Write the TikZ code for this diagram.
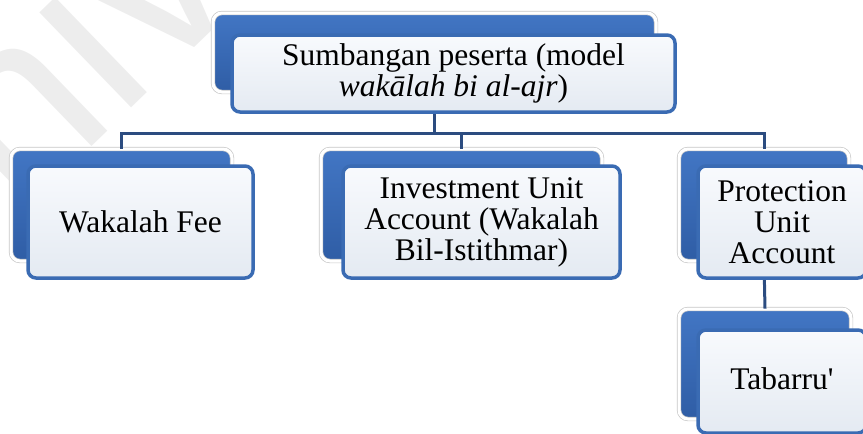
\documentclass[tikz,border=0pt]{standalone}
\usepackage{fontspec}
\setmainfont{Liberation Serif}
\setsansfont{Liberation Sans}
\usetikzlibrary{calc}

\definecolor{backblue}{HTML}{4276C4}
\definecolor{backbluedark}{HTML}{2F5DA5}
\definecolor{frameblue}{HTML}{3A6BB3}
\definecolor{linknavy}{HTML}{2C4C80}
\definecolor{paneltop}{HTML}{F8FAFD}
\definecolor{panelbot}{HTML}{E4EAF2}

\tikzset{
  backcard/.style={rounded corners=9pt, draw=black!22, double=white,
    double distance=3pt, line width=0.7pt,
    top color=backblue, bottom color=backbluedark, inner sep=0pt},
  frontcard/.style={draw=frameblue, line width=3.5pt, rounded corners=8pt,
    top color=paneltop, bottom color=panelbot, align=center, inner sep=0pt,
    font=\fontsize{31.5}{31}\selectfont},
  link/.style={draw=linknavy, line width=3pt},
}

\begin{document}
\begin{tikzpicture}[x=1pt, y=-1pt]
\useasboundingbox (0,0) rectangle (863,434);

% faint watermark behind the chart
\node[rotate=44, anchor=base west, text=black!7, inner sep=0pt,
  font=\sffamily\fontsize{250}{250}\selectfont] (mark) at (-110,342) {Univer};

% back cards
\node[backcard, minimum width=443, minimum height=79] (topback) at (434.5,52.5) {};
\node[backcard, minimum width=221, minimum height=112] (wakback) at (121.5,205) {};
\node[backcard, minimum width=281, minimum height=112] (invback) at (461.5,205) {};
\node[backcard, minimum width=170, minimum height=112] (protback) at (764,205) {};
\node[backcard, minimum width=172, minimum height=110] (tabback) at (765,364) {};

% connectors
\coordinate (bus) at (0,133);
\draw[link] (topback.south) -- (topback.south |- bus);
\draw[link] (wakback.north) -- (wakback.north |- bus) -- (protback.north |- bus) -- (protback.north);
\draw[link] (invback.north |- bus) -- (invback.north);
\draw[link] (protback.south) -- (tabback.north);

% front cards
\node[frontcard, minimum width=443, minimum height=77] (top) at (453.5,73.5)
  {Sumbangan peserta (model\\\textit{wakālah bi al-ajr})};
\node[frontcard, minimum width=225, minimum height=112] (wak) at (140.5,222) {Wakalah Fee};
\node[frontcard, minimum width=277, minimum height=112] (inv) at (481.5,222)
  {Investment Unit\\Account (Wakalah\\Bil-Istithmar)};
\node[frontcard, minimum width=168, minimum height=112] (prot) at (782,222)
  {Protection\\Unit\\Account};
\node[frontcard, minimum width=168, minimum height=103] (tab) at (782,381.5)
  {\raisebox{5pt}{Tabarru\textquotesingle}};
\end{tikzpicture}
\end{document}
